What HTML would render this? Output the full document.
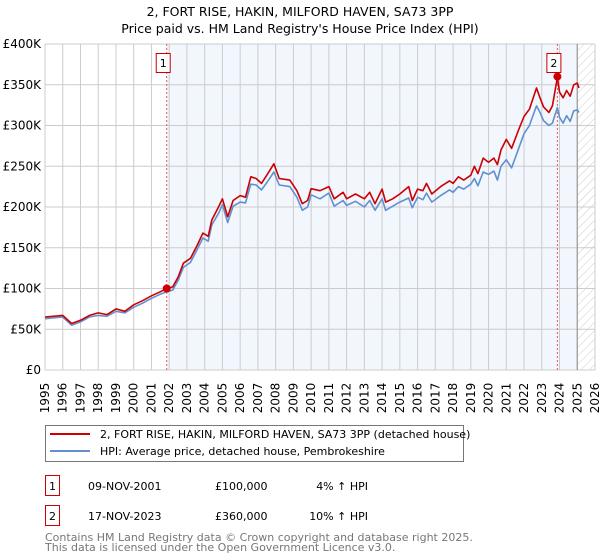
<!DOCTYPE html>
<html><head><meta charset="utf-8"><style>
body{margin:0;background:#fff;font-family:"DejaVu Sans","Liberation Sans",sans-serif;}
svg{display:block}
</style></head><body>
<svg id="c" width="600" height="560" xmlns="http://www.w3.org/2000/svg" font-family="DejaVu Sans, Liberation Sans, sans-serif">
<defs><pattern id="hatch" width="6" height="6" patternUnits="userSpaceOnUse" patternTransform="rotate(45)"><line x1="0" y1="0" x2="0" y2="6" stroke="#ccc" stroke-width="1"/></pattern></defs>
<text x="300" y="16" text-anchor="middle" font-size="12.5">2, FORT RISE, HAKIN, MILFORD HAVEN, SA73 3PP</text>
<text x="300" y="33" text-anchor="middle" font-size="12.5">Price paid vs. HM Land Registry's House Price Index (HPI)</text>
<g id="plot"></g>
<g>
<rect x="45.5" y="425.5" width="418" height="36" fill="#fff" stroke="#777"/>
<line x1="50" y1="434" x2="90" y2="434" stroke="#cc0000" stroke-width="2"/>
<text x="100" y="438" font-size="11">2, FORT RISE, HAKIN, MILFORD HAVEN, SA73 3PP (detached house)</text>
<line x1="50" y1="451" x2="90" y2="451" stroke="#6090d0" stroke-width="2"/>
<text x="100" y="455" font-size="11">HPI: Average price, detached house, Pembrokeshire</text>
</g>
<g font-size="11">
<rect x="45.5" y="475.5" width="14" height="20" fill="#fff" stroke="#cc0000"/>
<text x="52.5" y="490" text-anchor="middle">1</text>
<text x="88" y="490">09-NOV-2001</text><text x="215" y="490">£100,000</text><text x="368" y="490" text-anchor="end">4% ↑ HPI</text>
<rect x="45.5" y="505.5" width="14" height="20" fill="#fff" stroke="#cc0000"/>
<text x="52.5" y="520" text-anchor="middle">2</text>
<text x="88" y="520">17-NOV-2023</text><text x="215" y="520">£360,000</text><text x="368" y="520" text-anchor="end">10% ↑ HPI</text>
</g>
<text x="45" y="541" font-size="11" fill="#777">Contains HM Land Registry data © Crown copyright and database right 2025.</text>
<text x="45" y="551" font-size="11" fill="#777">This data is licensed under the Open Government Licence v3.0.</text>
</svg>
<script>
const hpiYears=[1995,1996,1996.5,1997,1997.5,1998,1998.5,1999,1999.5,2000,2000.5,2001,2001.5,2001.86,2002.2,2002.5,2002.8,2003.2,2003.6,2003.9,2004.2,2004.4,2004.8,2005,2005.3,2005.6,2006,2006.3,2006.6,2006.9,2007.2,2007.5,2007.9,2008.2,2008.8,2009.2,2009.5,2009.8,2010,2010.5,2011,2011.3,2011.8,2012,2012.5,2013,2013.3,2013.6,2014,2014.2,2014.6,2015,2015.5,2015.7,2016,2016.3,2016.5,2016.8,2017.3,2017.8,2018,2018.3,2018.6,2019,2019.2,2019.4,2019.7,2020,2020.3,2020.5,2020.7,2021,2021.3,2021.7,2022,2022.3,2022.7,2022.9,2023.1,2023.4,2023.6,2023.88,2024,2024.2,2024.4,2024.6,2024.8,2025,2025.1];
const priceValues=[65,67,57,61,67,70,68,75,72,80,85,91,96,100,102,114,131,137,154,168,164,184,201,210,188,208,214,212,237,235,229,239,253,235,233,220,204,208,222.5,220,225,210,218,210,216,210,218,204,222,206,210,216,225,208,222,220,229,216,225,232,229,237,233,239,250,241,260,255,260,252,270,283,272,295,311,320,346,334,323,316,324,359,341,334,343,336,350,352,346];
const hpiValues=[63,65,55,59,65,67,66,72,70,77,82,88,93,96,98,110,126,132,149,162,158,178,193,203,181,201,206,205,228,227,221,230,243,227,225,212,196,200,215,210,217,201,208,202,207,200,208,196,210,196,201,206,211,199,212,209,217,206,214,221,218,225,222,228,235,226,243,240,244,233,250,258,248,272,290,300,324,316,306,300,303,322,310,303,312,305,318,319,316];
const yTicks=[0,50,100,150,200,250,300,350,400];
const yTickLabels=["£0","£50K","£100K","£150K","£200K","£250K","£300K","£350K","£400K"];
const xTicks=[1995,1996,1997,1998,1999,2000,2001,2002,2003,2004,2005,2006,2007,2008,2009,2010,2011,2012,2013,2014,2015,2016,2017,2018,2019,2020,2021,2022,2023,2024,2025,2026];
const saleYears=[2001.86,2023.88];
const saleValues=[100,360];
const saleLabels=["1","2"];
const dataEndYear=2025.0;

const X0=45,X1=595,Y0=370,Y1=44,YR0=1995,YR1=2026,VMAX=400;
const sx=y=>X0+(y-YR0)/(YR1-YR0)*(X1-X0);
const sy=v=>Y0-v/VMAX*(Y0-Y1);
const NS="http://www.w3.org/2000/svg";
const g=document.getElementById('plot');
function mk(t,a,p){const e=document.createElementNS(NS,t);for(const k in a)e.setAttribute(k,a[k]);(p||g).appendChild(e);return e;}

const shade=mk('rect',{x:sx(saleYears[0]),y:Y1,width:sx(dataEndYear)-sx(saleYears[0]),height:Y0-Y1,fill:'#f2f6fd'});


const hatch=mk('rect',{x:sx(dataEndYear),y:Y1,width:X1-sx(dataEndYear),height:Y0-Y1,fill:'url(#hatch)'});



yTicks.forEach((v,i)=>{
  const l=mk('line',{x1:X0,x2:X1,y1:sy(v),y2:sy(v),stroke:'#ccc','stroke-width':1});
  
  
  const t=mk('text',{x:X0-4,y:sy(v)+4,'text-anchor':'end','font-size':12});
  
  
  t.textContent=yTickLabels[i];
});
xTicks.forEach(y=>{
  const l=mk('line',{x1:sx(y),x2:sx(y),y1:Y1,y2:Y0,stroke:'#ccc','stroke-width':1});
  
  
  const t=mk('text',{x:0,y:0,'font-size':12,transform:`translate(${sx(y)+4},${Y0+28}) rotate(-90)`,'text-anchor':'middle'});
  
  
  t.textContent=y;
});
const endl=mk('line',{x1:sx(dataEndYear),x2:sx(dataEndYear),y1:Y1,y2:Y0,stroke:'#999','stroke-width':1.2});



saleYears.forEach(y=>{
  const l=mk('line',{x1:sx(y),x2:sx(y),y1:Y1,y2:Y0,stroke:'#ee5555','stroke-width':1,'stroke-dasharray':'2,2'});
  
  
});

function path(vals,color,name){
  const d=hpiYears.map((y,i)=>(i?'L':'M')+sx(y).toFixed(1)+','+sy(vals[i]).toFixed(1)).join('');
  const p=mk('path',{d:d,fill:'none',stroke:color,'stroke-width':1.6,'stroke-linejoin':'round'});
  
  
}
path(hpiValues,'#6090d0','hpi-line');
path(priceValues,'#cc0000','price-line');

saleYears.forEach((y,i)=>{
  const c=mk('circle',{cx:sx(y),cy:sy(saleValues[i]),r:4,fill:'#cc0000'});
  
  
  const bx=sx(y)-11;
  const r=mk('rect',{x:bx+0.5,y:53.5,width:14,height:19,fill:'#fff',stroke:'#cc0000'});
  
  
  const t=mk('text',{x:bx+7.5,y:67,'text-anchor':'middle','font-size':11});
  
  
  t.textContent=saleLabels[i];
});
</script>
</body></html>
